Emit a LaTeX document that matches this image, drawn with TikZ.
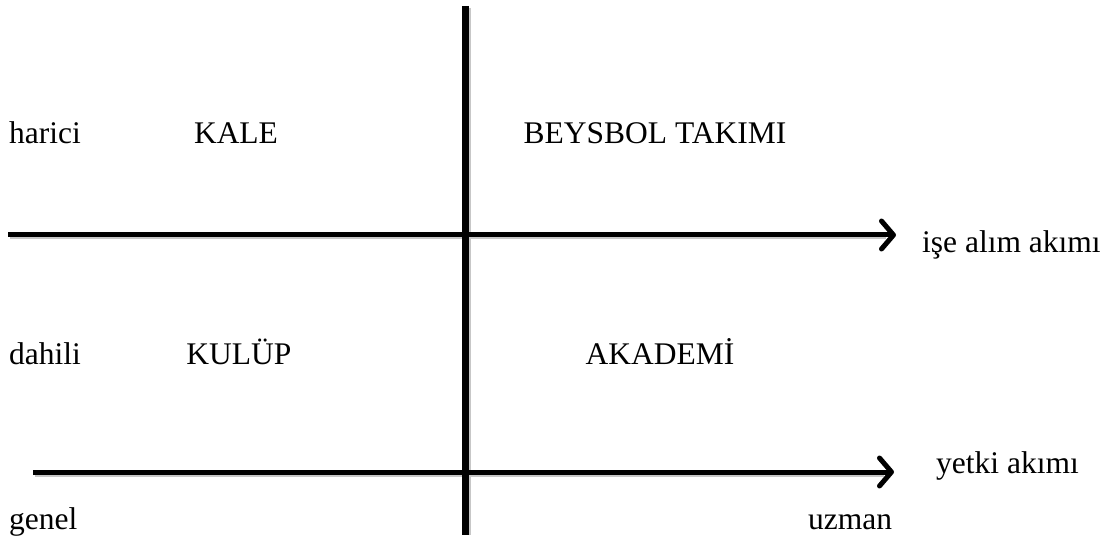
\documentclass[tikz,border=0pt]{standalone}
\usepackage{fontspec}
\setmainfont{LiberationSerif}[Extension=.ttf,UprightFont=*-Regular,BoldFont=*-Bold,ItalicFont=*-Italic,BoldItalicFont=*-BoldItalic]
\usetikzlibrary{arrows.meta}
\begin{document}
\begin{tikzpicture}[x=1pt,y=-1pt,
  lbl/.style={inner sep=0pt,font=\fontsize{31.5}{36}\selectfont},
  arr/.style={line width=5pt,-{Straight Barb[length=12pt,width=28pt,line cap=round,line join=round]}},
  shadowline/.style={line width=5pt,black!22}]
\useasboundingbox (0,0) rectangle (1109,540);
% coordinates
\coordinate (vt) at (465,6);
\coordinate (vb) at (465,535);
\coordinate (h1s) at (8,235);
\coordinate (h1e) at (896,235);
\coordinate (h2s) at (33,472);
\coordinate (h2e) at (894,472);
% shadows
\draw[shadowline] ([shift={(2,2)}]h1s) -- ([shift={(-10,2)}]h1e);
\draw[shadowline] ([shift={(2,2)}]h2s) -- ([shift={(-10,2)}]h2e);
\draw[line width=7pt,black!22] ([shift={(2,2)}]vt) -- ([shift={(2,0)}]vb);
% axes
\draw[line width=7pt] (vt) -- (vb);
\draw[arr] (h1s) -- (h1e);
\draw[arr] (h2s) -- (h2e);
% labels
\node[lbl,anchor=base west] (harici) at (9,144) {harici};
\node[lbl,anchor=base] (kale) at (236,144) {KALE};
\node[lbl,anchor=base] (beysbol) at (655,144) {BEYSBOL TAKIMI};
\node[lbl,anchor=base west] (ise) at (922,253) {işe alım akımı};
\node[lbl,anchor=base west] (dahili) at (9,364) {dahili};
\node[lbl,anchor=base] (kulup) at (239,364) {KULÜP};
\node[lbl,anchor=base] (akademi) at (660,364) {AKADEMİ};
\node[lbl,anchor=base west] (yetki) at (936,473) {yetki akımı};
\node[lbl,anchor=base west] (genel) at (9,529) {genel};
\node[lbl,anchor=base west] (uzman) at (808,529) {uzman};
\end{tikzpicture}
\end{document}
